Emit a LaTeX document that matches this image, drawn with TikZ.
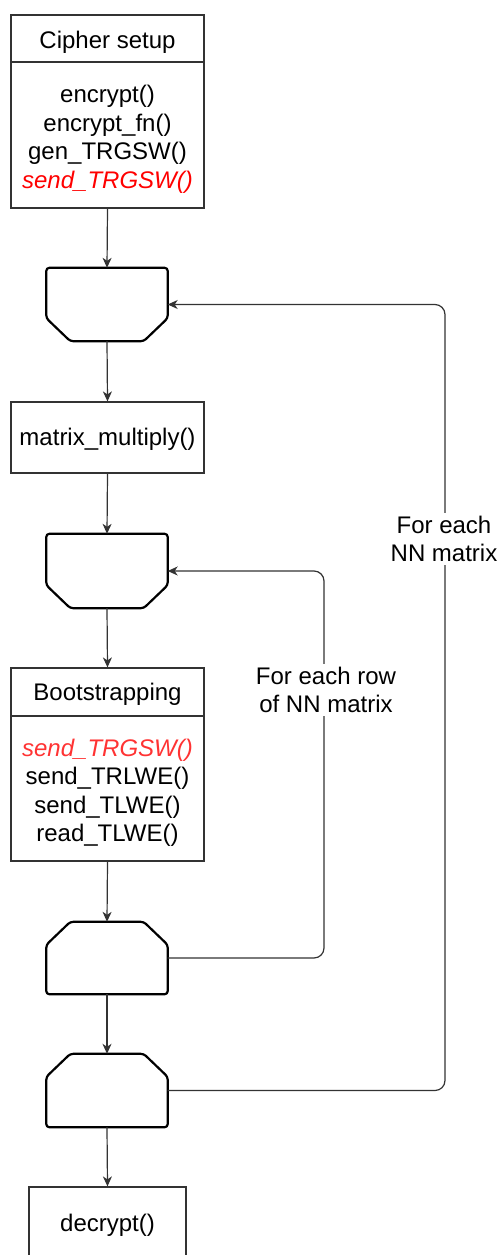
\documentclass[tikz,border=0pt]{standalone}
\usepackage{fontspec}
\setmainfont{Liberation Sans}
\usetikzlibrary{arrows.meta}

\definecolor{edgegray}{HTML}{333333}
\definecolor{hotred}{HTML}{FF0000}
\definecolor{softred}{HTML}{FF3333}

\tikzset{
  txt/.style={font=\fontsize{24pt}{28.5pt}\selectfont, align=center, inner sep=0pt},
  block/.style={draw=edgegray, line width=1.2pt, rectangle, inner sep=0pt, fill=white},
  loopslot/.style={rectangle, inner sep=0pt, minimum width=121pt},
  loopline/.style={draw=black, line width=2.2pt, rounded corners=3pt, line join=round},
  flow/.style={draw=edgegray, line width=1.2pt, -{Stealth[length=10pt, width=9pt, inset=3pt]}},
  backflow/.style={flow, rounded corners=10pt},
  looplabel/.style={txt, fill=white, inner sep=3pt},
}

% loop limit opened at the top: flat top, chamfered bottom
\newcommand\openlimit[1]{%
  \draw[loopline] ([xshift=24pt]#1.south west) -- ([yshift=23pt]#1.south west)
    -- (#1.north west) -- (#1.north east) -- ([yshift=23pt]#1.south east)
    -- ([xshift=-24pt]#1.south east) -- cycle;}
% loop limit closed at the bottom: chamfered top, flat bottom
\newcommand\closelimit[1]{%
  \draw[loopline] ([xshift=24pt]#1.north west) -- ([yshift=-23pt]#1.north west)
    -- (#1.south west) -- (#1.south east) -- ([yshift=-23pt]#1.north east)
    -- ([xshift=-24pt]#1.north east) -- cycle;}

\begin{document}
\begin{tikzpicture}[x=1pt, y=-1pt]
\useasboundingbox (0,0) rectangle (503,1255);

% cipher setup block
\node[block, minimum width=193pt, minimum height=193pt] (cs) at (107.5,111.5) {};
\draw[edgegray, line width=1.2pt] (cs.west |- 0,62) -- (cs.east |- 0,62);
\node[txt] (csTitle) at (107.5,42) {Cipher setup};
\node[txt] (csBody) at (107.5,139.5) {encrypt()\\encrypt\_fn()\\gen\_TRGSW()\\{\color{hotred}\itshape send\_TRGSW()}};

% outer loop start
\node[loopslot, minimum height=73pt] (ls1) at (107,304.5) {};
\openlimit{ls1}

% matrix multiplication
\node[block, minimum width=193pt, minimum height=71pt] (mm) at (107.5,437.5) {};
\node[txt] (mmText) at (107.5,439.5) {matrix\_multiply()};

% inner loop start
\node[loopslot, minimum height=74pt] (ls2) at (107,571) {};
\openlimit{ls2}

% bootstrapping block
\node[block, minimum width=193pt, minimum height=193pt] (bs) at (107.5,764.5) {};
\draw[edgegray, line width=1.2pt] (bs.west |- 0,716) -- (bs.east |- 0,716);
\node[txt] (bsTitle) at (107.5,694.5) {Bootstrapping};
\node[txt] (bsBody) at (107.5,793) {{\color{softred}\itshape send\_TRGSW()}\\send\_TRLWE()\\send\_TLWE()\\read\_TLWE()};

% inner loop end
\node[loopslot, minimum height=72pt] (le1) at (107,958) {};
\closelimit{le1}

% outer loop end
\node[loopslot, minimum height=73pt] (le2) at (107,1090.5) {};
\closelimit{le2}

% decryption
\node[block, minimum width=157pt, minimum height=71pt] (dec) at (107.5,1222.5) {};
\node[txt] (decText) at (107.5,1225) {decrypt()};

% main flow
\draw[flow] (cs.south) -- (ls1.north);
\draw[flow] (ls1.south) -- (mm.north);
\draw[flow] (mm.south) -- (ls2.north);
\draw[flow] (ls2.south) -- (bs.north);
\draw[flow] (bs.south) -- (le1.north);
\draw[flow] (le1.south) -- (le2.north);
\draw[flow] (le2.south) -- (dec.north);

% loop-back connectors
\coordinate (innerTurn) at (324,571);
\coordinate (outerTurn) at (445,304.5);
\draw[backflow] (le1.east) -| (innerTurn) -- (ls2.east);
\draw[backflow] (le2.east) -| (outerTurn) -- (ls1.east);

\node[looplabel] (innerLabel) at (326,690) {For each row\\of NN matrix};
\node[looplabel] (outerLabel) at (444,539) {For each\\NN matrix};
\end{tikzpicture}
\end{document}
